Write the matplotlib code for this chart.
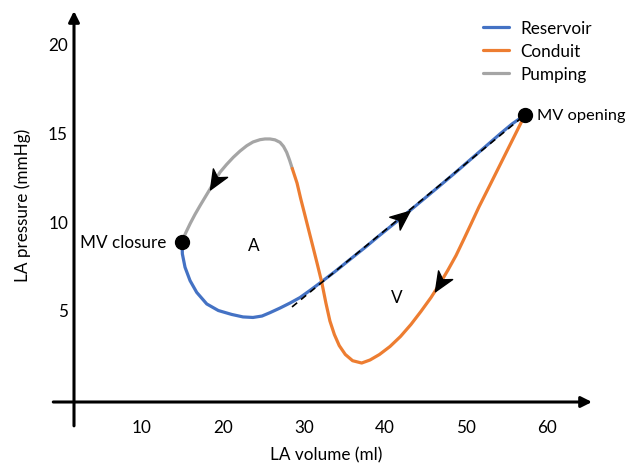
import numpy as np
import matplotlib
matplotlib.use('Agg')
import matplotlib.pyplot as plt
from matplotlib.path import Path
from matplotlib.markers import MarkerStyle
from matplotlib.transforms import Affine2D

# LA pressure-volume loop (volume in ml, pressure in mmHg)
reservoir_x = [14.94, 14.98, 15.31, 15.93, 16.75, 17.99, 19.42, 21.07, 22.47, 23.70,
               24.81, 25.80, 27.04, 28.27, 29.51, 30.74, 31.98,
               33.83, 35.68, 37.53, 39.38, 41.23, 43.09, 44.94, 46.79, 48.64, 50.49,
               52.35, 54.20, 55.68, 57.28]
reservoir_y = [8.82, 8.15, 7.40, 6.65, 5.99, 5.34, 4.97, 4.75, 4.61, 4.58,
               4.66, 4.85, 5.11, 5.39, 5.70, 6.10, 6.52,
               7.16, 7.84, 8.51, 9.21, 9.89, 10.59, 11.29, 11.99, 12.70, 13.43,
               14.16, 14.89, 15.45, 15.96]

conduit_x = [57.28, 55.80, 54.32, 52.96, 51.60, 50.62, 49.75, 48.77, 47.78, 46.79,
             45.68, 44.44, 43.21, 41.91, 40.62, 39.32, 38.15, 37.12, 36.00, 35.10,
             34.35, 33.75, 33.20, 32.70, 32.19, 31.64, 31.11, 30.59, 30.09, 29.59,
             29.14, 28.55]
conduit_y = [15.96, 14.61, 13.26, 12.02, 10.79, 9.83, 8.99, 8.06, 7.25, 6.49,
             5.70, 4.92, 4.19, 3.51, 2.95, 2.50, 2.19, 2.02, 2.15, 2.50,
             3.00, 3.62, 4.38, 5.40, 6.56, 7.58, 8.54, 9.47, 10.37, 11.26,
             12.13, 12.95]

pumping_x = [28.55, 28.21, 27.86, 27.47, 27.04, 26.42, 25.80, 25.19, 24.57, 23.70,
             22.93, 22.10, 21.27, 20.43, 19.63, 19.01, 18.40, 17.78, 17.16, 16.54,
             15.96, 15.42, 14.94]
pumping_y = [12.95, 13.43, 13.86, 14.19, 14.42, 14.56, 14.61, 14.61, 14.57, 14.44,
             14.23, 13.93, 13.58, 13.17, 12.74, 12.28, 11.80, 11.33, 10.86, 10.37,
             9.87, 9.36, 8.85]

fit_x = [28.52, 57.28]
fit_y = [5.17, 15.96]

mv_closure = (14.94, 8.82)
mv_opening = (57.28, 15.96)

xticks = [10, 20, 30, 40, 50, 60]
yticks = [5, 10, 15, 20]

blue = '#4472C4'
orange = '#ED7D31'
gray = '#A5A5A5'
fs = 12.3

plt.rcParams['font.family'] = ['Lato', 'DejaVu Sans']
plt.rcParams['font.size'] = fs

fig = plt.figure(figsize=(6.3, 4.64), dpi=100)
ax = fig.add_axes([74 / 630, 61 / 464, 518 / 630, 391 / 464])
ax.set_xlim(1.6, 65.56)
ax.set_ylim(-0.17, 21.8)

for s in ax.spines.values():
    s.set_visible(False)

# axis lines with arrow heads
ax.annotate('', xy=(1, 0), xytext=(-0.04, 0), xycoords='axes fraction',
            arrowprops=dict(arrowstyle='-|>', lw=2.2, color='black',
                            mutation_scale=16, shrinkA=0, shrinkB=0))
ax.annotate('', xy=(0, 1), xytext=(0, -0.061), xycoords='axes fraction',
            arrowprops=dict(arrowstyle='-|>', lw=2.2, color='black',
                            mutation_scale=16, shrinkA=0, shrinkB=0))

ax.set_xticks(xticks)
ax.set_yticks(yticks)
ax.tick_params(axis='x', length=0, pad=12, labelsize=fs)
ax.tick_params(axis='y', length=0, pad=4.3, labelsize=fs)

ax.plot(reservoir_x, reservoir_y, color=blue, lw=2.3, label='Reservoir',
        solid_capstyle='round', solid_joinstyle='round', zorder=3)
ax.plot(conduit_x, conduit_y, color=orange, lw=2.3, label='Conduit',
        solid_capstyle='round', solid_joinstyle='round', zorder=4)
ax.plot(pumping_x, pumping_y, color=gray, lw=2.3, label='Pumping',
        solid_capstyle='round', solid_joinstyle='round', zorder=3)
ax.plot(fit_x, fit_y, color='black', lw=1.2, ls=(0, (4, 3)), zorder=5)

# notched arrow heads along the loop
head = Path([(1, 0), (-1, 0.85), (-0.45, 0), (-1, -0.85), (1, 0)],
            [Path.MOVETO, Path.LINETO, Path.LINETO, Path.LINETO, Path.CLOSEPOLY])


def arrow_on(xs, ys, pos):
    pts = np.column_stack([xs, ys])
    i = int(np.argmin(np.hypot(pts[:, 0] - pos[0], pts[:, 1] - pos[1])))
    a = ax.transData.transform(pts[max(i - 1, 0)])
    b = ax.transData.transform(pts[min(i + 1, len(pts) - 1)])
    ang = np.degrees(np.arctan2(b[1] - a[1], b[0] - a[0]))
    m = MarkerStyle(head, transform=Affine2D().rotate_deg(ang))
    ax.plot(pos[0], pos[1], marker=m, markersize=14, color='black', zorder=6)


arrow_on(pumping_x, pumping_y, (19.0, 12.25))
arrow_on(reservoir_x, reservoir_y, (42.1, 10.2))
arrow_on(conduit_x, conduit_y, (46.79, 6.49))

ax.plot(*mv_closure, 'o', color='black', markersize=10, zorder=7)
ax.plot(*mv_opening, 'o', color='black', markersize=10, zorder=7)
ax.annotate('MV closure', mv_closure, xytext=(-11, 0), textcoords='offset points',
            ha='right', va='center', fontsize=fs)
ax.annotate('MV opening', mv_opening, xytext=(9, 0), textcoords='offset points',
            ha='left', va='center', fontsize=11.8)
ax.text(23.8, 8.65, 'A', ha='center', va='center', fontsize=fs)
ax.text(41.5, 5.73, 'V', ha='center', va='center', fontsize=fs)

fig.text(326 / 630, 1 - 455 / 464, 'LA volume (ml)', ha='center', va='center', fontsize=fs)
fig.text(23 / 630, 1 - 205 / 464, 'LA pressure (mmHg)', ha='center', va='center',
         rotation=90, fontsize=fs)

ax.legend(loc='upper left', bbox_to_anchor=(483 / 630, 1 - 21 / 464),
          bbox_transform=fig.transFigure, frameon=False, fontsize=fs,
          handlelength=1.55, handletextpad=0.63, labelspacing=0.42,
          borderpad=0, borderaxespad=0)

fig.savefig('out.png', dpi=100)
